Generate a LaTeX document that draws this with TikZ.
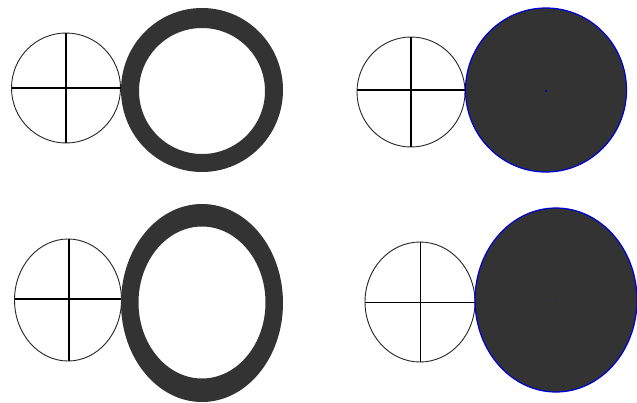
\documentclass[tikz,border=0pt]{standalone}
\begin{document}
\begin{tikzpicture}[x=1pt,y=-1pt,
  wheel/.style={draw=black!85,line width=0.9pt,fill=white},
  crossline/.style={draw=black,line width=1.1pt},
  ringfill/.style={fill=ringgray,even odd rule},
  disc/.style={fill=ringgray,draw=blue!85!black,line width=1.2pt}]
\definecolor{ringgray}{HTML}{333333}
\useasboundingbox (0,0) rectangle (637,402);
\fill[white] (0,0) rectangle (637,402);
% panel 1
\draw[wheel] (66,88) ellipse [x radius=54.5,y radius=55];
\draw[crossline] (11.5,88) -- (120.5,88);
\draw[crossline] (66,33) -- (66,143);
\fill[ringgray,even odd rule] (202,90) ellipse [x radius=81,y radius=82] (202,91) ellipse [x radius=63,y radius=63];
% panel 2
\draw[wheel] (411,92) ellipse [x radius=54,y radius=55];
\draw[crossline] (357,90) -- (465,90);
\draw[crossline] (411,37) -- (411,147);
\draw[disc] (546,90) ellipse [x radius=80.5,y radius=82];
\fill[blue!70!black] (546,91) circle (1.2);
% panel 3
\draw[wheel] (68,300) ellipse [x radius=53.5,y radius=61];
\draw[crossline] (15,299) -- (122,299);
\draw[crossline] (69,239) -- (69,361);
\fill[ringgray,even odd rule] (202,303) ellipse [x radius=81,y radius=99] (202,302.5) ellipse [x radius=63.5,y radius=76];
% panel 4
\draw[wheel] (420,302) ellipse [x radius=55,y radius=60];
\draw[crossline,line width=0.9pt] (365,302) -- (475,302);
\draw[crossline,line width=0.9pt] (420,242) -- (420,362);
\draw[disc] (556,300) ellipse [x radius=81,y radius=92];
\fill[ringgray!80!blue] (555,300) circle (1);
\end{tikzpicture}
\end{document}
